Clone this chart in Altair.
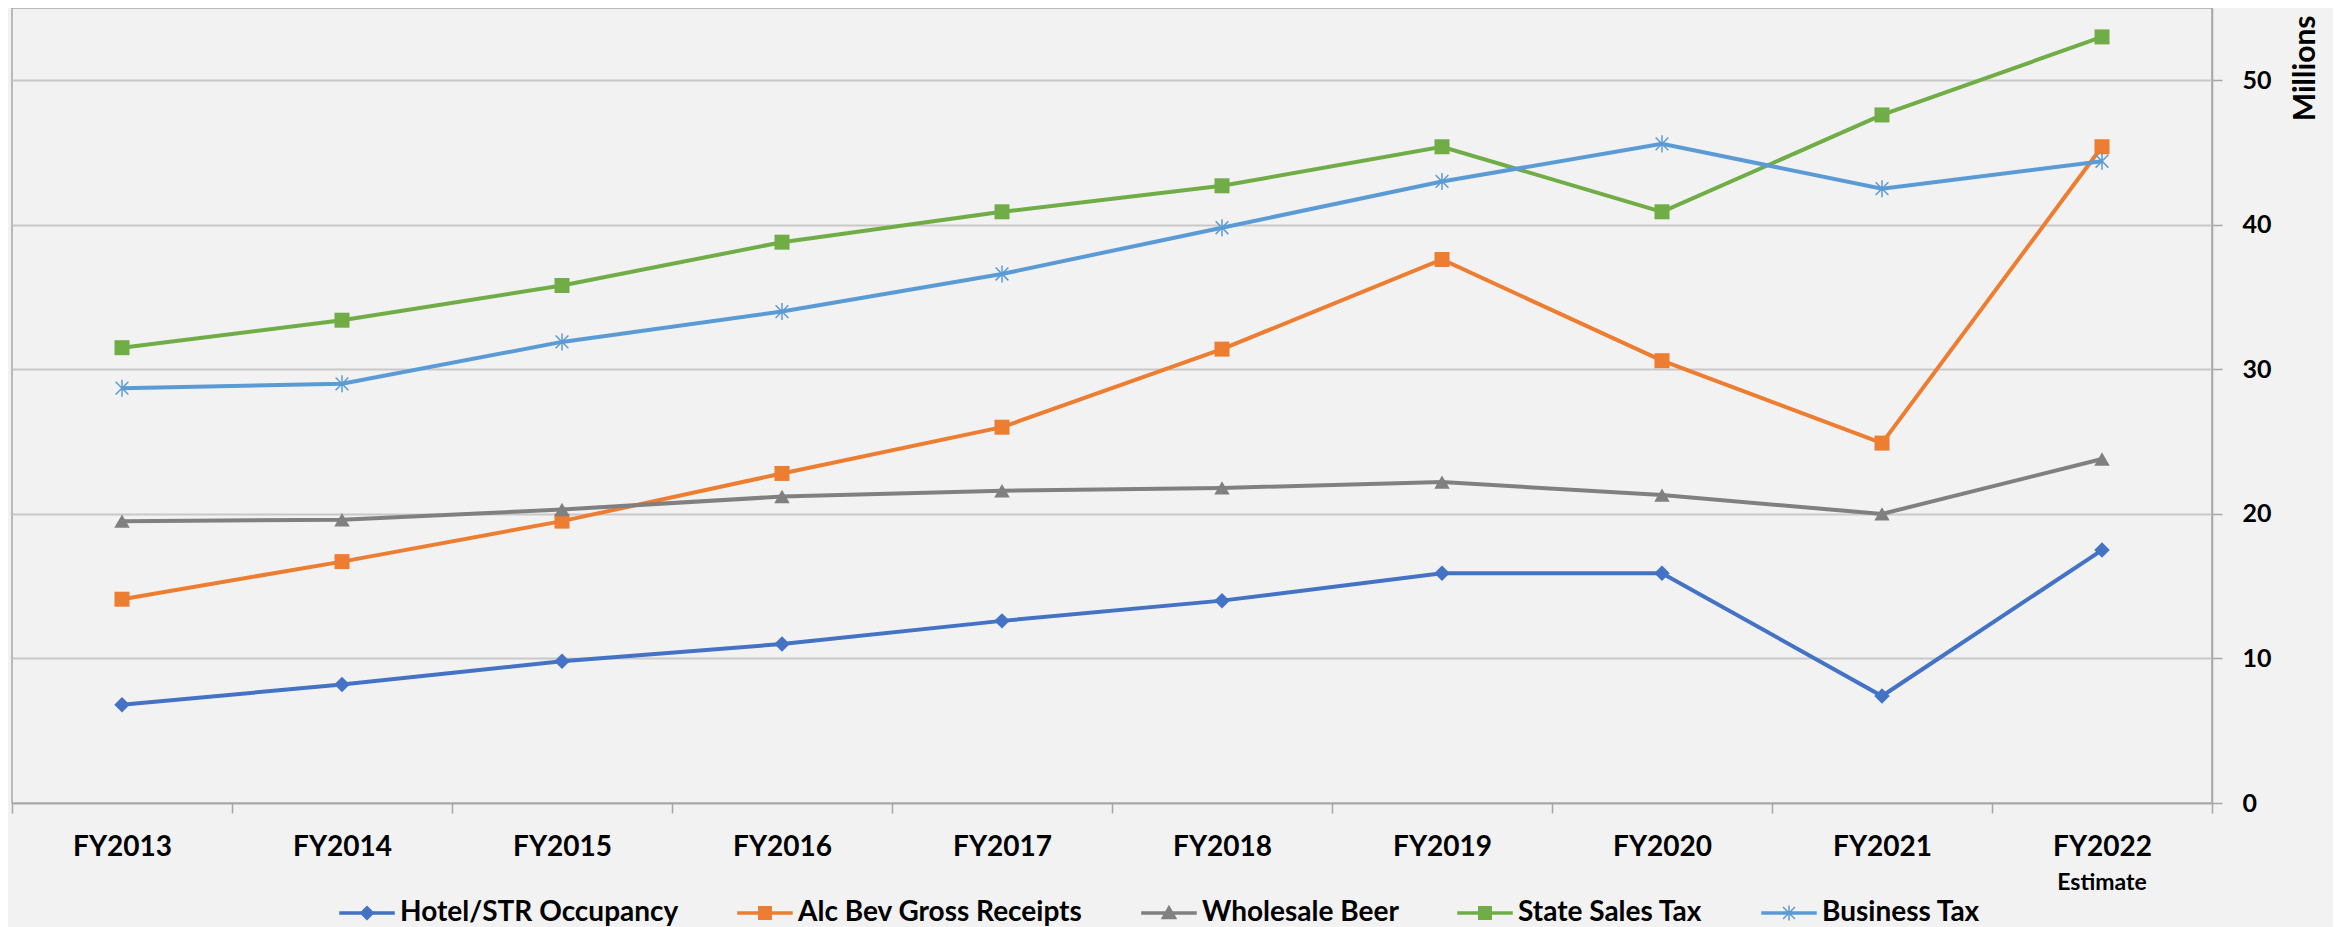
import altair as alt
import pandas as pd

years = ["FY2013", "FY2014", "FY2015", "FY2016", "FY2017",
         "FY2018", "FY2019", "FY2020", "FY2021", "FY2022"]

series_names = ["Hotel/STR Occupancy", "Alc Bev Gross Receipts", "Wholesale Beer",
                "State Sales Tax", "Business Tax"]

hotel = [6.8, 8.2, 9.8, 11.0, 12.6, 14.0, 15.9, 15.9, 7.4, 17.5]
alcbev = [14.1, 16.7, 19.5, 22.8, 26.0, 31.4, 37.6, 30.6, 24.9, 45.4]
beer = [19.5, 19.6, 20.3, 21.2, 21.6, 21.8, 22.2, 21.3, 20.0, 23.8]
state = [31.5, 33.4, 35.8, 38.8, 40.9, 42.7, 45.4, 40.9, 47.6, 53.0]
business = [28.7, 29.0, 31.9, 34.0, 36.6, 39.8, 43.0, 45.6, 42.5, 44.4]

colors = ["#4472C4", "#ED7D31", "#808080", "#70AD47", "#5B9BD5"]

# chart markers
asterisk = "M0,-1L0,1M-0.75,-0.75L0.75,0.75M-0.75,0.75L0.75,-0.75"
marker_shapes = ["diamond", "square", "triangle-up", "square", asterisk]
marker_filled = [True, True, True, True, False]
marker_sizes = [240, 225, 240, 225, 290]

# legend symbols: short line with the marker on it
seg = "M-1,-0.035L1,-0.035L1,0.035L-1,0.035Z"
legend_shapes = [
    seg + "M-0.24,0L0,-0.24L0.24,0L0,0.24Z",
    seg + "M-0.23,-0.23L0.23,-0.23L0.23,0.23L-0.23,0.23Z",
    seg + "M-0.26,0.2L0,-0.25L0.26,0.2Z",
    seg + "M-0.23,-0.23L0.23,-0.23L0.23,0.23L-0.23,0.23Z",
    seg + "M0,-0.28L0,0.28M-0.22,-0.22L0.22,0.22M-0.22,0.22L0.22,-0.22",
]

y_ticks = [0, 10, 20, 30, 40, 50]
note_year = ["FY2022"]
note_text = ["Estimate"]

rows = []
for name, vals in zip(series_names, [hotel, alcbev, beer, state, business]):
    for yr, v in zip(years, vals):
        rows.append({"Year": yr, "Value": v, "Series": name})
df = pd.DataFrame(rows)

FONT = "Lato"
GRAY = "#A6A6A6"

x_enc = alt.X(
    "Year:N", sort=years,
    scale=alt.Scale(type="band", paddingInner=0, paddingOuter=0),
    axis=alt.Axis(title=None, labelAngle=0, labelFont=FONT, labelFontWeight="bold",
                  labelFontSize=28, labelColor="black", labelBaseline="alphabetic",
                  labelPadding=42, tickSize=10, tickColor=GRAY, tickWidth=1.5,
                  domainColor=GRAY, domainWidth=1.5, tickBand="extent", grid=False),
)
y_enc = alt.Y(
    "Value:Q",
    scale=alt.Scale(domain=[0, 55], nice=False, zero=True),
    axis=alt.Axis(orient="right", values=y_ticks, title="Millions", titleAngle=270,
                  titleAlign="right", titleBaseline="alphabetic", titleX=102, titleY=7,
                  titleFont=FONT, titleFontWeight="bold", titleFontSize=30, titleColor="black",
                  labelFont=FONT, labelFontWeight="bold", labelFontSize=25, labelColor="black",
                  labelPadding=20, labelAlign="left", labelBaseline="middle", labelFlush=False,
                  tickSize=10, tickColor=GRAY, tickWidth=1.5, domainColor=GRAY, domainWidth=1.5,
                  gridColor="#C8C8C8", gridWidth=2),
)

LEG = alt.Legend(title=None, orient="none", legendX=327, legendY=877,
                 direction="horizontal", columns=5, columnPadding=56,
                 symbolSize=2916, symbolStrokeWidth=1.5, symbolOpacity=1,
                 labelOffset=5, labelFont=FONT, labelFontWeight="bold",
                 labelFontSize=28, labelLimit=600, labelColor="black")

cscale = alt.Scale(domain=series_names, range=colors)

lines = alt.Chart(df).mark_line(strokeWidth=4).encode(
    x=x_enc, y=y_enc,
    color=alt.Color("Series:N", scale=cscale, legend=LEG),
)

point_layers = []
for name, shp, filled, sz in zip(series_names, marker_shapes, marker_filled, marker_sizes):
    point_layers.append(
        alt.Chart(df).transform_filter(alt.datum.Series == name)
        .mark_point(shape=shp, filled=filled, opacity=1, strokeWidth=1.5, size=sz)
        .encode(x=x_enc, y=y_enc,
                color=alt.Color("Series:N", scale=cscale, legend=LEG))
    )

legend_layer = alt.Chart(df).transform_filter("false").mark_point(
    filled=True, opacity=1, strokeWidth=1.5
).encode(
    x=x_enc, y=y_enc,
    color=alt.Color("Series:N", scale=cscale, legend=LEG),
    stroke=alt.Stroke("Series:N", scale=alt.Scale(domain=series_names, range=colors), legend=LEG),
    shape=alt.Shape("Series:N", scale=alt.Scale(domain=series_names, range=legend_shapes), legend=LEG),
)

note = alt.Chart(pd.DataFrame({"Year": note_year, "Note": note_text})).mark_text(
    font=FONT, fontWeight="bold", fontSize=23, baseline="alphabetic", align="center", color="black"
).encode(
    x=alt.X("Year:N", sort=years),
    y=alt.value(882),
    text="Note:N",
)

chart = alt.layer(lines, *point_layers, legend_layer, note).properties(
    width=2200, height=795,
    padding={"left": 4, "top": 0, "right": 121, "bottom": 124},
    autosize="none",
    background="#F2F2F2",
).configure_view(stroke=GRAY, strokeWidth=1.5)

chart.save("out.html", embed_options={"renderer": "svg", "actions": False})
